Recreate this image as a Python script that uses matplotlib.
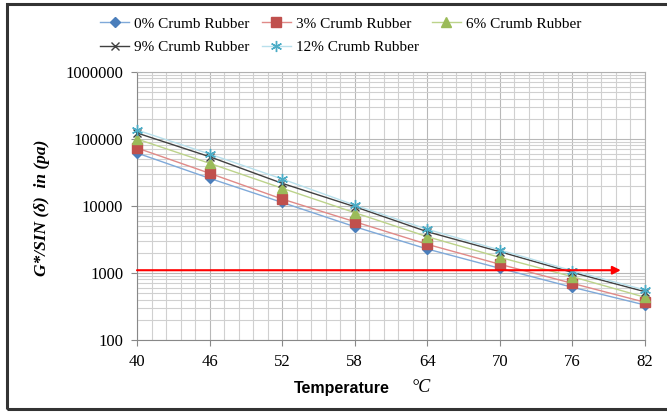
import matplotlib
matplotlib.use("Agg")
import matplotlib.pyplot as plt
from matplotlib.ticker import FixedLocator, FixedFormatter, LogLocator, NullFormatter
from matplotlib.patches import Rectangle

plt.rcParams['font.family'] = ['Liberation Serif', 'DejaVu Serif']

# ── data: G*/sin(delta) vs test temperature ─────────────────────
temps = [40, 46, 52, 58, 64, 70, 76, 82]
cr_0 = [61800, 25900, 11300, 4910, 2280, 1175, 612, 333]
cr_3 = [73500, 30800, 12700, 5830, 2680, 1350, 700, 366]
cr_6 = [100000, 43400, 18400, 7950, 3480, 1710, 880, 434]
cr_9 = [123000, 54400, 21800, 9770, 4130, 2080, 1020, 526]
cr_12 = [136000, 59700, 25300, 10300, 4490, 2200, 1080, 557]
labels = ['0% Crumb Rubber', '3% Crumb Rubber', '6% Crumb Rubber',
          '9% Crumb Rubber', '12% Crumb Rubber']
criterion = 1100          # red reference line
criterion_x = [40, 80]
y_ticks = [100, 1000, 10000, 100000, 1000000]

W, H = 667, 412
fig = plt.figure(figsize=(W / 100, H / 100), dpi=100)
fig.patch.set_facecolor('white')
ax = fig.add_axes([137 / W, 1 - 340 / H, (645 - 137) / W, (340 - 72) / H])

# series styles: (values, line colour, marker, marker colour, size)
styles = [
    (cr_0, '#7fa9d9', 'D', '#4a7ebb', 5),
    (cr_3, '#e08a88', 's', '#c0504d', 6.5),
    (cr_6, '#bcd38a', '^', '#9bbb59', 6.5),
    (cr_9, '#404040', 'x', '#404040', 6),
    (cr_12, '#b8e0ec', (6, 2, 0), '#4bacc6', 8),
]
handles = []
for (vals, lc, mk, mc, ms), lab in zip(styles, labels):
    h, = ax.plot(temps, vals, color=lc, linewidth=1.0, marker=mk,
                 markersize=ms, markerfacecolor=mc, markeredgecolor=mc,
                 markeredgewidth=1.0, label=lab, zorder=3, clip_on=False)
    handles.append(h)

# 1 kPa criterion arrow
ax.annotate('', xy=(criterion_x[1], criterion), xytext=(criterion_x[0], criterion),
            arrowprops=dict(arrowstyle='-|>', color='#ff0000', lw=1.5,
                            mutation_scale=12, shrinkA=0, shrinkB=0),
            zorder=5)

ax.set_yscale('log')
ax.set_ylim(100, 1000000)
ax.set_xlim(40, 82)
ax.yaxis.set_major_locator(FixedLocator(y_ticks))
ax.yaxis.set_major_formatter(FixedFormatter([str(v) for v in y_ticks]))
ax.yaxis.set_minor_locator(LogLocator(base=10, subs=range(2, 10)))
ax.yaxis.set_minor_formatter(NullFormatter())
ax.xaxis.set_major_locator(FixedLocator(temps))
ax.xaxis.set_major_formatter(FixedFormatter([str(t) for t in temps]))
ax.xaxis.set_minor_locator(FixedLocator([40 + 1.2 * k for k in range(36)]))

ax.grid(True, which='major', color='#b8b8b8', linewidth=0.8, zorder=0)
ax.grid(True, which='minor', color='#d0d0d0', linewidth=0.8, zorder=0)
ax.set_axisbelow(True)
for s in ax.spines.values():
    s.set_color('#b0b0b0')
ax.spines['left'].set_color('#888888')
ax.spines['bottom'].set_color('#888888')
ax.tick_params(which='major', direction='out', length=4, width=0.8,
               color='#888888', labelsize=12, pad=6)
ax.tick_params(which='minor', length=0)

# axis titles
fig.text(42 / W, 1 - 208 / H, 'G*/SIN (\u03b4)  in (pa)', rotation=90,
         ha='center', va='center', fontsize=12.5, fontweight='bold',
         fontstyle='italic')
fig.text(342 / W, 1 - 388 / H, 'Temperature', ha='center', va='center',
         fontsize=11.5, fontweight='bold', family=['Liberation Sans'])
fig.text(421 / W, 1 - 388 / H, '\u00b0C', ha='center', va='center',
         fontsize=13, fontstyle='italic')

# legend laid out row-wise in 3 columns
order = [0, 3, 1, 4, 2]
fig.legend([handles[i] for i in order], [labels[i] for i in order],
           loc='upper left', bbox_to_anchor=(100 / W, 1 - 17 / H),
           ncol=3, frameon=False, fontsize=11, handlelength=1.9,
           handletextpad=0.35, columnspacing=0.8, labelspacing=0.65,
           borderpad=0, borderaxespad=0)

# outer frame
fig.add_artist(Rectangle((7 / W, 1 - 409 / H), 1.2, (409 - 4) / H,
                         transform=fig.transFigure, fill=False,
                         edgecolor='#333333', linewidth=2.2, clip_on=False))

fig.savefig('out.png', dpi=100, facecolor='white')
